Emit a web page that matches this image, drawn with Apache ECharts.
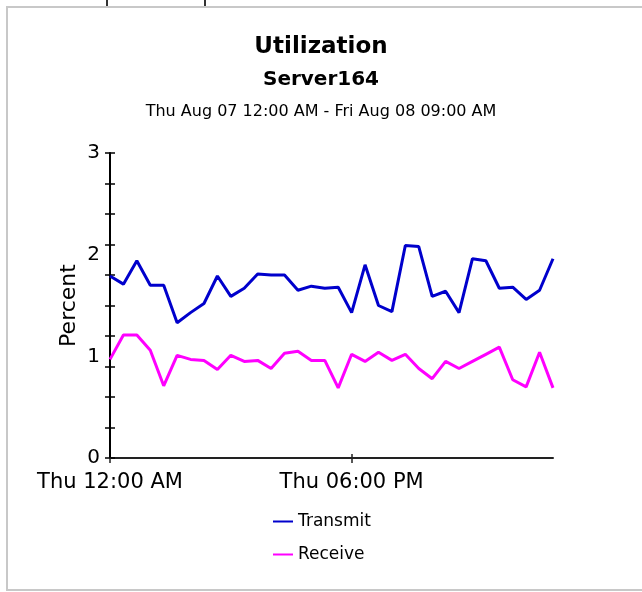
<!DOCTYPE html>
<html>
<head>
<meta charset="utf-8">
<script src="https://cdn.jsdelivr.net/npm/echarts@6/dist/echarts.min.js"></script>
<style>
  html, body { margin: 0; padding: 0; background: #fff; }
  #chart { width: 642px; height: 592px; }
</style>
</head>
<body>
<div id="chart"></div>
<script>
// hourly samples, Thu 12:00 AM .. Fri 09:00 AM
var hours = [
  'Thu 12:00 AM', 'Thu 01:00 AM', 'Thu 02:00 AM', 'Thu 03:00 AM', 'Thu 04:00 AM', 'Thu 05:00 AM',
  'Thu 06:00 AM', 'Thu 07:00 AM', 'Thu 08:00 AM', 'Thu 09:00 AM', 'Thu 10:00 AM', 'Thu 11:00 AM',
  'Thu 12:00 PM', 'Thu 01:00 PM', 'Thu 02:00 PM', 'Thu 03:00 PM', 'Thu 04:00 PM', 'Thu 05:00 PM',
  'Thu 06:00 PM', 'Thu 07:00 PM', 'Thu 08:00 PM', 'Thu 09:00 PM', 'Thu 10:00 PM', 'Thu 11:00 PM',
  'Fri 12:00 AM', 'Fri 01:00 AM', 'Fri 02:00 AM', 'Fri 03:00 AM', 'Fri 04:00 AM', 'Fri 05:00 AM',
  'Fri 06:00 AM', 'Fri 07:00 AM', 'Fri 08:00 AM', 'Fri 09:00 AM'
];
var transmit = [
  1.79, 1.71, 1.94, 1.70, 1.70, 1.33, 1.43, 1.52, 1.79, 1.59, 1.67, 1.81,
  1.80, 1.80, 1.65, 1.69, 1.67, 1.68, 1.43, 1.90, 1.50, 1.44, 2.09, 2.08,
  1.59, 1.64, 1.43, 1.96, 1.94, 1.67, 1.68, 1.56, 1.65, 1.96
];
var receive = [
  0.97, 1.21, 1.21, 1.06, 0.71, 1.01, 0.97, 0.96, 0.87, 1.01, 0.95, 0.96,
  0.88, 1.03, 1.05, 0.96, 0.96, 0.69, 1.02, 0.95, 1.04, 0.96, 1.02, 0.88,
  0.78, 0.95, 0.88, 0.95, 1.02, 1.09, 0.77, 0.70, 1.04, 0.69
];
var yLabels = [0, 1, 2, 3];

var font = 'DejaVu Sans';
var chart = echarts.init(document.getElementById('chart'));

var showEvery18 = function (idx) { return idx % 18 === 0; };

var option = {
  animation: false,
  backgroundColor: '#fff',
  title: [
    { text: 'Utilization', left: 'center', top: 36, padding: 0,
      textStyle: { fontFamily: font, fontSize: 23, fontWeight: 'bold', color: '#000' } },
    { text: 'Server164', left: 'center', top: 70, padding: 0,
      textStyle: { fontFamily: font, fontSize: 20, fontWeight: 'bold', color: '#000' } },
    { text: 'Thu Aug 07 12:00 AM - Fri Aug 08 09:00 AM', left: 'center', top: 104, padding: 0,
      textStyle: { fontFamily: font, fontSize: 16, fontWeight: 'normal', color: '#000' } }
  ],
  grid: { left: 110, right: 89, top: 153, bottom: 134, outerBoundsMode: 'none' },
  legend: {
    data: ['Transmit', 'Receive'],
    orient: 'vertical',
    left: 273,
    top: 513,
    icon: 'rect',
    itemWidth: 20,
    itemHeight: 2,
    itemGap: 16,
    padding: 0,
    textStyle: { fontFamily: font, fontSize: 17, color: '#000' }
  },
  xAxis: [
    {
      type: 'category',
      data: hours,
      boundaryGap: false,
      axisLine: { show: true, lineStyle: { color: '#222', width: 2 } },
      axisTick: { show: true, inside: false, length: 5, interval: showEvery18,
        lineStyle: { color: '#222', width: 1.5 } },
      axisLabel: { interval: showEvery18, margin: 14, color: '#000',
        fontFamily: font, fontSize: 21 },
      splitLine: { show: false }
    },
    {
      type: 'category',
      data: hours,
      boundaryGap: false,
      position: 'bottom',
      axisLine: { show: false },
      axisTick: { show: true, inside: true, length: 4, interval: function (idx) { return idx === 18; },
        lineStyle: { color: '#222', width: 1.5 } },
      axisLabel: { show: false },
      splitLine: { show: false }
    }
  ],
  yAxis: [
    {
      type: 'value', min: 0, max: 3, interval: 0.3, position: 'left',
      axisLine: { show: true, lineStyle: { color: '#000', width: 2 } },
      axisTick: { show: true, inside: false, length: 5, lineStyle: { color: '#000', width: 1.5 } },
      axisLabel: { show: false },
      splitLine: { show: false }
    },
    {
      type: 'value', min: 0, max: 3, interval: 0.3, position: 'left',
      axisLine: { show: false },
      axisTick: { show: true, inside: true, length: 5, lineStyle: { color: '#000', width: 1.5 } },
      axisLabel: { show: false },
      splitLine: { show: false }
    },
    {
      type: 'value', min: 0, max: 3, interval: 1, position: 'left',
      name: 'Percent',
      nameLocation: 'middle',
      nameGap: 30,
      nameMoveOverlap: false,
      nameRotate: 90,
      nameTextStyle: { fontFamily: font, fontSize: 22, color: '#000' },
      axisLine: { show: false },
      axisTick: { show: false },
      axisLabel: { margin: 10, color: '#000', fontFamily: font, fontSize: 20,
        formatter: function (v) { return yLabels.indexOf(v) >= 0 ? String(v) : ''; } },
      splitLine: { show: false }
    }
  ],
  series: [
    {
      name: 'Transmit', type: 'line', xAxisIndex: 0, yAxisIndex: 0,
      data: transmit, showSymbol: false, symbol: 'none',
      color: '#0000cc',
      lineStyle: { color: '#0000cc', width: 3 }
    },
    {
      name: 'Receive', type: 'line', xAxisIndex: 0, yAxisIndex: 0,
      data: receive, showSymbol: false, symbol: 'none',
      color: '#ff00ff',
      lineStyle: { color: '#ff00ff', width: 3 }
    }
  ],
  graphic: [
    { type: 'rect', shape: { x: 7, y: 7, width: 660, height: 583 },
      style: { fill: 'none', stroke: '#c8c8c8', lineWidth: 2 }, silent: true },
    { type: 'line', shape: { x1: 107, y1: 0, x2: 107, y2: 6 },
      style: { stroke: '#333', lineWidth: 2 }, silent: true },
    { type: 'line', shape: { x1: 205, y1: 0, x2: 205, y2: 6 },
      style: { stroke: '#333', lineWidth: 2 }, silent: true }
  ]
};

chart.setOption(option);
</script>
</body>
</html>
